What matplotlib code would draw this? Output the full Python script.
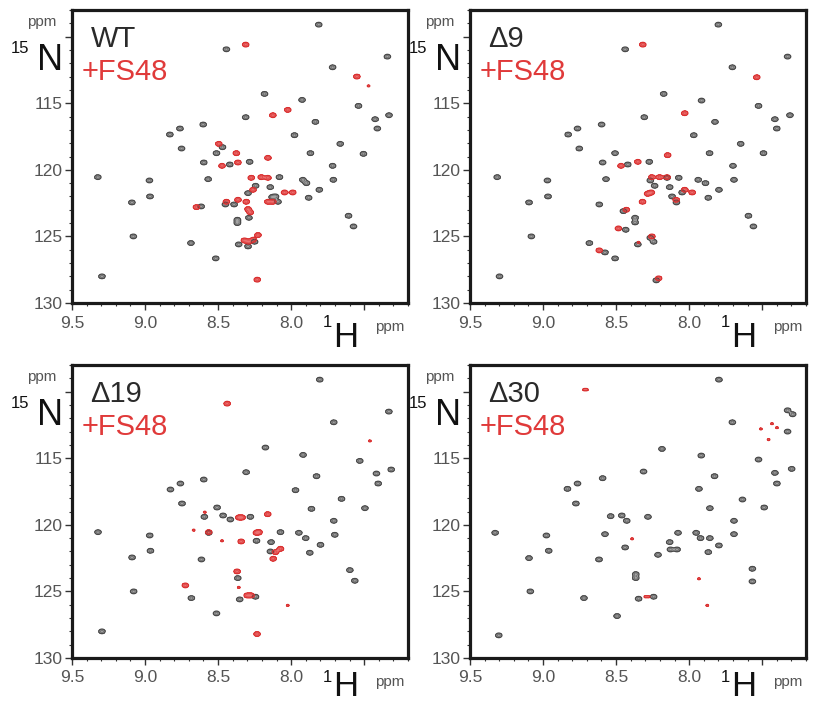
import numpy as np
import matplotlib.pyplot as plt
from matplotlib.ticker import MultipleLocator

plt.rcParams['font.family'] = ['Liberation Sans', 'DejaVu Sans']

# peak positions, 1H (ppm) and 15N (ppm)
# WT alone / with FS48
wt_free_h = [7.811, 8.443, 7.341, 7.716, 8.182, 7.925, 7.539, 8.311, 7.425, 7.33, 7.834, 7.41, 8.761,
             8.602, 8.83, 7.977, 7.664, 8.75, 8.47, 8.511, 7.868, 7.505, 8.598, 8.42, 8.284, 7.716,
             7.711, 7.807, 7.88, 8.08, 7.92, 7.895, 8.243, 8.143, 8.107, 8.295, 8.568, 9.323, 8.97,
             8.966, 9.09, 8.616, 8.45, 8.39, 8.289, 8.368, 8.368, 7.607, 7.573, 9.08, 8.686, 8.359,
             8.295, 8.25, 8.516, 9.295, 8.13, 8.09]
wt_free_n = [109.1, 110.95, 111.5, 112.3, 114.3, 114.75, 115.2, 116.05, 116.2, 115.9, 116.4, 116.9, 116.9,
             116.6, 117.35, 117.4, 118.05, 118.4, 118.3, 118.75, 118.75, 118.8, 119.45, 119.6, 119.4, 119.7,
             120.75, 121.5, 122.1, 120.55, 120.75, 121.0, 121.2, 121.3, 122.0, 121.75, 120.7, 120.55, 120.8,
             122.0, 122.45, 122.75, 122.6, 122.6, 123.6, 123.75, 124.0, 123.45, 124.25, 125.0, 125.5, 125.6,
             125.75, 125.4, 126.65, 128.0, 122.05, 122.4]
wt_bound_h = [8.311, 7.55, 8.125, 8.023, 8.495, 8.375, 8.159, 8.473, 8.364, 8.273, 8.205, 8.159, 8.261,
              8.045, 7.989, 8.159, 8.125, 8.443, 8.307, 8.364, 8.295, 8.28, 8.648, 8.26, 8.227, 8.29,
              8.32, 8.232]
wt_bound_n = [110.6, 113.0, 115.9, 115.5, 118.05, 118.75, 119.1, 119.7, 119.45, 120.6, 120.55, 120.6, 121.5,
              121.7, 121.7, 122.4, 122.4, 122.4, 122.4, 122.25, 122.95, 123.2, 122.8, 125.25, 124.9, 125.4,
              125.3, 128.25]
wt_weak_h = [7.47]
wt_weak_n = [113.7]

# delta9
d9_free_h = [7.80, 8.438, 7.326, 7.704, 8.174, 7.915, 7.525, 8.307, 7.413, 7.31, 7.823, 7.40, 8.764,
             8.599, 8.828, 7.968, 7.647, 8.752, 8.507, 7.86, 7.491, 8.592, 8.42, 8.273, 7.70, 7.693,
             7.796, 7.869, 8.071, 7.938, 7.888, 8.236, 8.133, 8.117, 8.048, 8.569, 9.314, 8.97, 8.966,
             9.096, 8.615, 8.087, 8.45, 8.37, 8.37, 8.434, 7.594, 7.56, 9.08, 8.683, 8.351, 8.576,
             8.243, 8.266, 8.507, 9.298, 8.225, 8.266, 8.151]
d9_free_n = [109.1, 110.95, 111.5, 112.3, 114.3, 114.8, 115.2, 116.05, 116.2, 115.9, 116.4, 116.9, 116.9,
             116.6, 117.35, 117.4, 118.05, 118.4, 118.75, 118.75, 118.75, 119.45, 119.6, 119.4, 119.7, 120.75,
             121.5, 122.1, 120.6, 120.75, 121.0, 121.2, 121.3, 122.0, 121.7, 120.7, 120.55, 120.8, 122.0,
             122.45, 122.6, 122.45, 123.1, 123.6, 123.95, 124.5, 123.45, 124.25, 125.0, 125.5, 125.6, 126.2,
             125.4, 125.1, 126.65, 128.0, 128.3, 120.8, 120.6]
d9_bound_h = [8.317, 7.537, 8.03, 8.147, 8.466, 8.351, 8.255, 8.202, 8.151, 8.259, 8.284, 8.319, 8.089,
              8.03, 7.979, 8.43, 8.484, 8.615, 8.255, 8.209]
d9_bound_n = [110.6, 113.05, 115.75, 118.9, 119.7, 119.4, 120.55, 120.55, 120.55, 121.7, 121.8, 122.4, 122.25,
              121.5, 121.7, 123.0, 124.4, 126.05, 125.0, 128.15]
d9_weak_h = [8.346]
d9_weak_n = [125.45]

# delta19
d19_free_h = [7.804, 7.331, 7.708, 8.176, 7.918, 7.53, 8.308, 7.416, 7.315, 7.826, 7.404, 8.758, 8.598,
              8.826, 7.97, 7.655, 8.747, 8.507, 7.861, 7.495, 8.594, 8.416, 8.279, 8.466, 7.708, 7.701,
              7.799, 7.872, 8.073, 7.947, 7.90, 8.237, 8.137, 8.564, 9.322, 8.968, 8.963, 9.089, 8.614,
              8.365, 7.598, 7.564, 9.078, 8.683, 8.352, 8.244, 8.511, 9.295, 8.142]
d19_free_n = [109.1, 111.5, 112.3, 114.2, 114.75, 115.2, 116.05, 116.15, 115.85, 116.35, 116.9, 116.9, 116.6,
              117.35, 117.4, 118.05, 118.4, 118.7, 118.8, 118.75, 119.4, 119.6, 119.4, 119.3, 119.7, 120.75,
              121.5, 122.1, 120.55, 120.6, 121.0, 121.2, 121.3, 120.6, 120.55, 120.8, 121.95, 122.45, 122.6,
              124.0, 123.4, 124.2, 125.0, 125.5, 125.6, 125.4, 126.65, 128.0, 122.0]
d19_bound_h = [8.438, 8.16, 8.564, 8.358, 8.336, 8.342, 8.237, 8.22, 8.123, 8.107, 8.073, 8.37, 8.724,
               8.301, 8.274, 8.233]
d19_bound_n = [110.9, 119.2, 120.55, 119.45, 119.45, 121.25, 120.6, 120.55, 122.55, 122.05, 121.8, 123.5, 124.55,
               125.3, 125.3, 128.2]
d19_weak_h = [8.591, 8.473, 8.667, 8.358, 8.023, 7.461]
d19_weak_n = [119.05, 121.2, 120.4, 124.7, 126.05, 113.7]

# delta30
d30_free_h = [7.796, 7.326, 7.291, 7.704, 7.326, 8.186, 7.917, 7.525, 8.312, 7.413, 7.298, 7.826, 7.399,
              8.764, 8.592, 8.833, 7.933, 7.635, 8.775, 7.858, 7.486, 8.537, 8.461, 8.427, 8.282, 7.693,
              7.693, 7.796, 7.869, 8.076, 7.952, 7.922, 7.858, 8.213, 8.133, 8.128, 8.083, 8.438, 8.576,
              9.328, 8.977, 8.961, 9.096, 8.617, 8.365, 8.365, 7.567, 7.567, 9.087, 8.72, 8.346, 8.243,
              8.493, 9.303]
d30_free_n = [109.1, 111.4, 111.7, 112.3, 113.0, 114.3, 114.8, 115.1, 116.0, 116.1, 115.8, 116.35, 116.9,
              116.9, 116.5, 117.3, 117.3, 118.1, 118.4, 118.75, 118.7, 119.35, 119.3, 119.7, 119.4, 119.7,
              120.7, 121.55, 122.05, 120.6, 120.6, 121.0, 121.0, 122.25, 121.3, 121.85, 121.85, 121.7, 120.7,
              120.6, 120.8, 121.95, 122.5, 122.6, 123.7, 124.0, 123.3, 124.25, 125.0, 125.5, 125.55, 125.4,
              126.85, 128.3]
d30_bound_h = []
d30_bound_n = []
d30_weak_h = [8.72, 8.70, 7.509, 7.433, 7.399, 7.456, 8.30, 8.277, 7.933, 7.876, 8.39]
d30_weak_n = [109.85, 109.85, 112.8, 112.4, 112.7, 113.6, 125.4, 125.4, 124.05, 126.05, 121.05]

panels = [
    ('WT', wt_free_h, wt_free_n, wt_bound_h, wt_bound_n, wt_weak_h, wt_weak_n),
    ('Δ9', d9_free_h, d9_free_n, d9_bound_h, d9_bound_n, d9_weak_h, d9_weak_n),
    ('Δ19', d19_free_h, d19_free_n, d19_bound_h, d19_bound_n, d19_weak_h, d19_weak_n),
    ('Δ30', d30_free_h, d30_free_n, d30_bound_h, d30_bound_n, d30_weak_h, d30_weak_n),
]

GRAY_LINE, GRAY_FILL = '#4a4a4a', '#a4a4a4'
RED_LINE, RED_FILL = '#d93030', '#ec7070'

# grid for the simulated 2D spectrum
hg = np.linspace(7.15, 9.55, 900)
ng = np.linspace(107.5, 130.5, 520)
H, N = np.meshgrid(hg, ng)


def spectrum(hs, ns, amp=1.0, sh=0.014, sn=0.11):
    z = np.zeros_like(H)
    for x, y in zip(hs, ns):
        z += amp * np.exp(-((H - x) ** 2 / (2 * sh ** 2) + (N - y) ** 2 / (2 * sn ** 2)))
    return z


def draw_peaks(ax, hs, ns, line, fill, amp=1.0, sh=0.014, sn=0.11):
    if len(hs) == 0:
        return
    z = spectrum(hs, ns, amp, sh, sn)
    ax.contourf(H, N, z, levels=[0.3, 1e3], colors=[fill])
    ax.contour(H, N, z, levels=[0.3], colors=[line], linewidths=0.9)
    ax.contour(H, N, z, levels=[0.75], colors=[line], linewidths=0.5, alpha=0.7)


fig = plt.figure(figsize=(8.15, 7.03), dpi=100)
W, Hfig = 815, 703
boxes = [(72, 10), (470, 10), (72, 365), (470, 365)]
h_base = [-0.150, -0.150, -0.130, -0.130]
aw, ah = 336, 293

for (name, fh, fn, bh, bn, wh, wn), (px, py), hb in zip(panels, boxes, h_base):
    ax = fig.add_axes([px / W, 1 - (py + ah) / Hfig, aw / W, ah / Hfig])
    draw_peaks(ax, fh, fn, GRAY_LINE, GRAY_FILL)
    draw_peaks(ax, bh, bn, RED_LINE, RED_FILL)
    draw_peaks(ax, wh, wn, RED_LINE, RED_FILL, amp=0.45, sh=0.01, sn=0.08)

    ax.set_xlim(9.5, 7.2)
    ax.set_ylim(130, 108)
    ax.set_xticks([9.5, 9.0, 8.5, 8.0, 7.5])
    ax.set_xticklabels(['9.5', '9.0', '8.5', '8.0', ''])
    ax.set_yticks([110, 115, 120, 125, 130])
    ax.set_yticklabels(['', '115', '120', '125', '130'])
    ax.xaxis.set_minor_locator(MultipleLocator(0.1))
    ax.yaxis.set_minor_locator(MultipleLocator(1))
    ax.tick_params(which='major', direction='out', length=5, width=1, color='#333333',
                   labelcolor='#555555', labelsize=12.5, pad=2)
    ax.tick_params(axis='x', which='major', pad=4)
    ax.tick_params(which='minor', direction='out', length=2.5, width=0.8, color='#333333')
    for s in ax.spines.values():
        s.set_linewidth(2.3)
        s.set_color('#1a1a1a')

    # construct name and ligand
    ax.text(0.055, 0.875, name, transform=ax.transAxes, fontsize=21, color='#2a2a2a',
            ha='left', va='baseline')
    ax.text(0.03, 0.762, '+FS48', transform=ax.transAxes, fontsize=21, color='#e03a3a',
            ha='left', va='baseline')

    # axis nuclei labels
    ax.text(-0.09, 0.96, 'ppm', transform=ax.transAxes, fontsize=11, color='#555555',
            ha='center', va='center', clip_on=False)
    ax.text(-0.065, 0.795, 'N', transform=ax.transAxes, fontsize=26, color='#111111',
            ha='center', va='baseline', clip_on=False)
    ax.text(-0.155, 0.868, '15', transform=ax.transAxes, fontsize=12, color='#111111',
            ha='center', va='center', clip_on=False)
    ax.text(0.815, hb, 'H', transform=ax.transAxes, fontsize=25, color='#111111',
            ha='center', va='baseline', clip_on=False)
    ax.text(0.76, -0.066, '1', transform=ax.transAxes, fontsize=12, color='#111111',
            ha='center', va='center', clip_on=False)
    ax.text(0.946, -0.082, 'ppm', transform=ax.transAxes, fontsize=11, color='#555555',
            ha='center', va='center', clip_on=False)

fig.savefig('out.png', dpi=100, facecolor='white')
